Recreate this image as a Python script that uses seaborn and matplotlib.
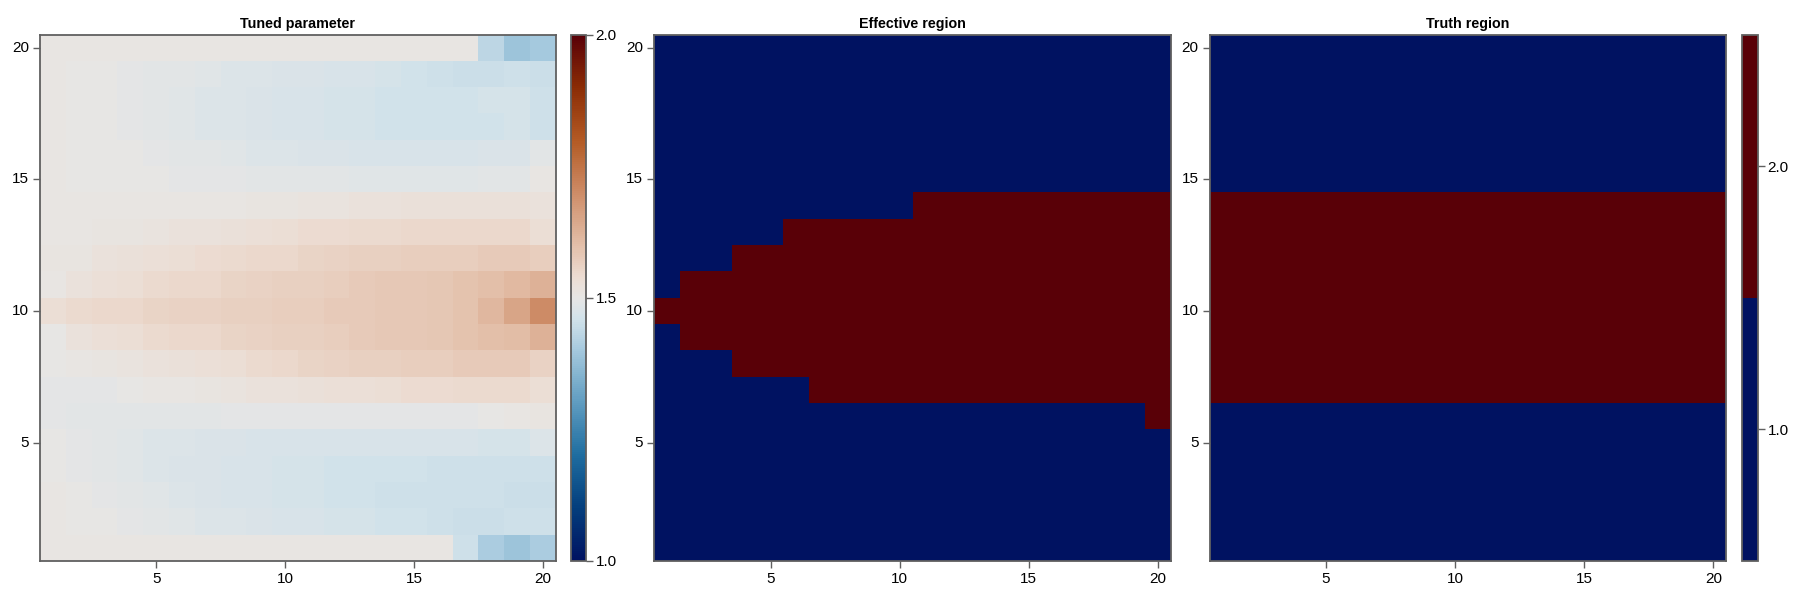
import numpy as np
import pandas as pd
import matplotlib
matplotlib.use("Agg")
import matplotlib.pyplot as plt
from matplotlib.colors import LinearSegmentedColormap, ListedColormap
import seaborn as sns

# grid coordinates
xs = list(range(1, 21))
ys = list(range(20, 0, -1))  # top row first

# tuned parameter, rows from y=20 (top) down to y=1
tuned = [
    [1.505]*17 + [1.43, 1.39, 1.40],
    [1.505, 1.50, 1.50, 1.495, 1.49, 1.49, 1.485, 1.48, 1.48, 1.475, 1.475, 1.47, 1.47, 1.465, 1.46, 1.455, 1.45, 1.45, 1.455, 1.45],
    [1.505, 1.50, 1.50, 1.495, 1.49, 1.485, 1.48, 1.48, 1.475, 1.47, 1.47, 1.465, 1.465, 1.46, 1.46, 1.46, 1.46, 1.465, 1.465, 1.455],
    [1.505, 1.50, 1.50, 1.495, 1.49, 1.485, 1.48, 1.48, 1.475, 1.47, 1.47, 1.465, 1.465, 1.46, 1.46, 1.46, 1.46, 1.46, 1.465, 1.455],
    [1.505, 1.50, 1.50, 1.50, 1.495, 1.49, 1.49, 1.485, 1.48, 1.48, 1.475, 1.475, 1.47, 1.47, 1.47, 1.47, 1.47, 1.475, 1.475, 1.49],
    [1.505, 1.50, 1.50, 1.50, 1.50, 1.495, 1.495, 1.495, 1.49, 1.49, 1.49, 1.49, 1.485, 1.485, 1.485, 1.485, 1.485, 1.49, 1.49, 1.505],
    [1.505, 1.505, 1.505, 1.505, 1.505, 1.505, 1.505, 1.505, 1.51, 1.51, 1.515, 1.515, 1.52, 1.52, 1.525, 1.525, 1.525, 1.525, 1.525, 1.52],
    [1.505, 1.505, 1.51, 1.51, 1.515, 1.52, 1.52, 1.525, 1.53, 1.535, 1.54, 1.54, 1.545, 1.545, 1.55, 1.55, 1.55, 1.55, 1.55, 1.535],
    [1.51, 1.51, 1.52, 1.525, 1.53, 1.535, 1.54, 1.545, 1.55, 1.55, 1.555, 1.56, 1.565, 1.565, 1.57, 1.57, 1.57, 1.575, 1.575, 1.57],
    [1.505, 1.52, 1.53, 1.535, 1.545, 1.55, 1.55, 1.555, 1.56, 1.565, 1.565, 1.57, 1.575, 1.58, 1.58, 1.585, 1.59, 1.60, 1.61, 1.625],
    [1.535, 1.545, 1.55, 1.55, 1.555, 1.56, 1.56, 1.565, 1.565, 1.57, 1.57, 1.575, 1.575, 1.58, 1.58, 1.585, 1.59, 1.615, 1.65, 1.70],
    [1.50, 1.52, 1.53, 1.535, 1.545, 1.55, 1.55, 1.555, 1.56, 1.565, 1.565, 1.57, 1.575, 1.58, 1.58, 1.585, 1.59, 1.60, 1.605, 1.625],
    [1.50, 1.505, 1.51, 1.515, 1.52, 1.525, 1.53, 1.535, 1.545, 1.55, 1.555, 1.56, 1.565, 1.565, 1.57, 1.57, 1.575, 1.575, 1.575, 1.56],
    [1.495, 1.495, 1.495, 1.50, 1.505, 1.505, 1.51, 1.515, 1.52, 1.52, 1.525, 1.53, 1.53, 1.535, 1.54, 1.54, 1.545, 1.545, 1.545, 1.535],
    [1.495, 1.49, 1.49, 1.49, 1.49, 1.49, 1.49, 1.495, 1.495, 1.495, 1.495, 1.495, 1.495, 1.495, 1.495, 1.495, 1.495, 1.50, 1.505, 1.51],
    [1.50, 1.495, 1.49, 1.485, 1.48, 1.48, 1.475, 1.475, 1.47, 1.47, 1.47, 1.47, 1.47, 1.47, 1.47, 1.47, 1.47, 1.465, 1.465, 1.48],
    [1.50, 1.495, 1.49, 1.485, 1.48, 1.475, 1.475, 1.47, 1.47, 1.465, 1.465, 1.46, 1.46, 1.46, 1.46, 1.455, 1.455, 1.455, 1.455, 1.455],
    [1.505, 1.50, 1.495, 1.49, 1.485, 1.48, 1.475, 1.47, 1.47, 1.465, 1.465, 1.46, 1.46, 1.455, 1.455, 1.455, 1.455, 1.455, 1.45, 1.45],
    [1.505, 1.50, 1.50, 1.495, 1.49, 1.485, 1.48, 1.48, 1.475, 1.47, 1.47, 1.465, 1.465, 1.46, 1.46, 1.455, 1.45, 1.45, 1.455, 1.455],
    [1.505]*16 + [1.455, 1.41, 1.39, 1.41],
]

# effective region: lowest / highest row that is "on" in each column x=1..20
eff_lo = [10, 9, 9, 8, 8, 8, 7, 7, 7, 7, 7, 7, 7, 7, 7, 7, 7, 7, 7, 6]
eff_hi = [10, 11, 11, 12, 12, 13, 13, 13, 13, 13, 14, 14, 14, 14, 14, 14, 14, 14, 14, 14]

# truth region rows
truth_lo, truth_hi = 7, 14

# build tables
tuned_df = pd.DataFrame(tuned, index=ys, columns=xs)
eff_df = pd.DataFrame([[2 if lo <= y <= hi else 1 for lo, hi in zip(eff_lo, eff_hi)] for y in ys],
                      index=ys, columns=xs)
truth_df = pd.DataFrame([[2 if truth_lo <= y <= truth_hi else 1 for _ in xs] for y in ys],
                        index=ys, columns=xs)

# vik-like colormap
vik = LinearSegmentedColormap.from_list("vik", [
    (0.00, "#001261"), (0.10, "#033E7D"), (0.20, "#1E6DA0"), (0.30, "#5F9CC0"),
    (0.40, "#A5C9DE"), (0.46, "#D2E2EA"), (0.50, "#E7E6E5"), (0.54, "#ECDCD2"),
    (0.60, "#E3BFA9"), (0.70, "#CE8C67"), (0.80, "#B35A24"), (0.90, "#8B2C05"),
    (1.00, "#590007")])
two = ListedColormap(["#001261", "#590007"])

plt.rcParams['font.family'] = ['Liberation Sans', 'DejaVu Sans']

fig = plt.figure(figsize=(18, 6), dpi=100)
bot, hgt = 0.065, 0.8775
ax1 = fig.add_axes([0.0223, bot, 0.2864, hgt])
cb1 = fig.add_axes([0.3170, bot, 0.0085, hgt])
ax2 = fig.add_axes([0.3635, bot, 0.2870, hgt])
ax3 = fig.add_axes([0.6720, bot, 0.2870, hgt])
cb3 = fig.add_axes([0.9680, bot, 0.0085, hgt])

sns.heatmap(tuned_df, ax=ax1, cmap=vik, vmin=1.0, vmax=2.0, cbar_ax=cb1,
            cbar_kws={"ticks": [1.0, 1.5, 2.0]})
sns.heatmap(eff_df, ax=ax2, cmap=two, vmin=0.5, vmax=2.5, cbar=False)
sns.heatmap(truth_df, ax=ax3, cmap=two, vmin=0.5, vmax=2.5, cbar_ax=cb3,
            cbar_kws={"ticks": [1.0, 2.0]})

frame = "#606060"
tick_vals = [5, 10, 15, 20]
for ax, title in zip([ax1, ax2, ax3], ["Tuned parameter", "Effective region", "Truth region"]):
    ax.set_xticks([xs.index(v) + 0.5 for v in tick_vals])
    ax.set_xticklabels([str(v) for v in tick_vals], rotation=0)
    ax.set_yticks([ys.index(v) + 0.5 for v in tick_vals])
    ax.set_yticklabels([str(v) for v in tick_vals], rotation=0)
    ax.set_xlabel("")
    ax.set_ylabel("")
    ax.tick_params(length=5, width=1, color=frame, labelsize=11, pad=3)
    for s in ax.spines.values():
        s.set_visible(True)
        s.set_color(frame)
        s.set_linewidth(1.3)
    ax.set_title(title, fontsize=10.3, fontweight="bold", pad=5)

for ax, cax, labels in [(ax1, cb1, ["1.0", "1.5", "2.0"]), (ax3, cb3, ["1.0", "2.0"])]:
    cax.set_yticklabels(labels)
    cax.tick_params(length=5, width=1, color=frame, labelsize=11, pad=2)
    cbar = ax.collections[0].colorbar
    cbar.outline.set_visible(True)
    cbar.outline.set_edgecolor(frame)
    cbar.outline.set_linewidth(1.3)

fig.savefig("out.png", dpi=100)
